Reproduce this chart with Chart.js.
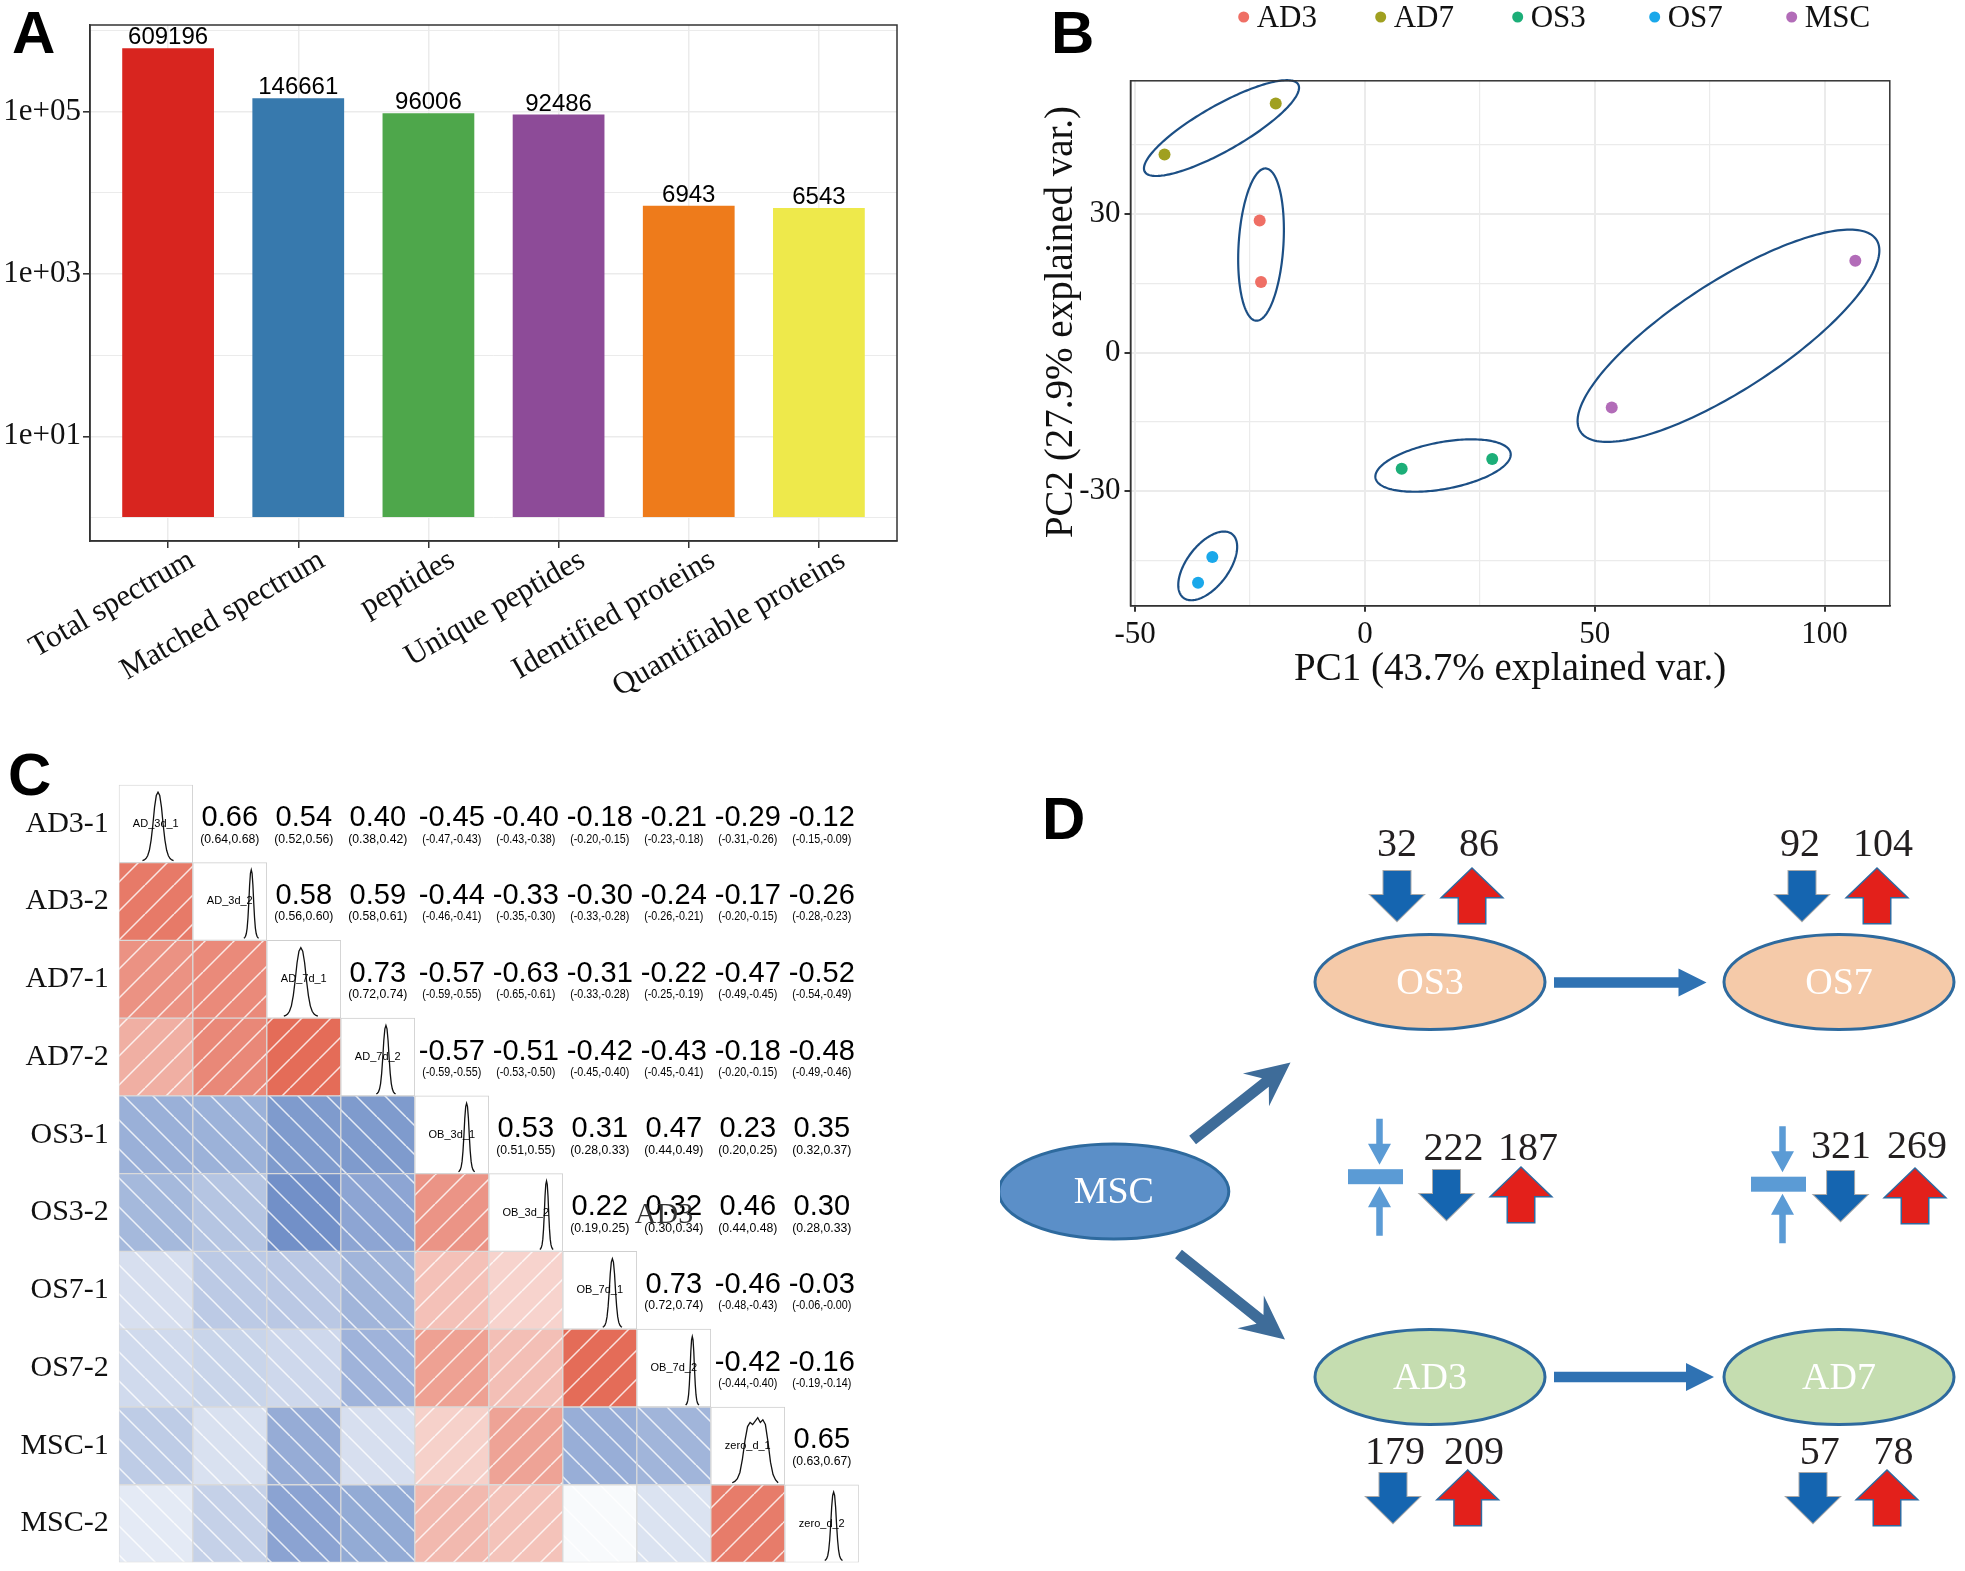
<!DOCTYPE html>
<html>
<head>
<meta charset="utf-8">
<script src="https://cdn.jsdelivr.net/npm/chart.js@4.4.1/dist/chart.umd.min.js"></script>
<style>
  body { margin: 0; background: #fff; width: 1965px; height: 1571px; position: relative; overflow: hidden; }
  canvas { position: absolute; }
  .tag { position: absolute; z-index: 2; font: bold 60px "Liberation Sans", Arial, sans-serif; line-height: 60px; color: #000; }
</style>
</head>
<body>
<div class="tag" style="left:12px;top:3px">A</div>
<div class="tag" style="left:1051px;top:3px">B</div>
<div class="tag" style="left:8px;top:745px">C</div>
<div class="tag" style="left:1042px;top:789px">D</div>

<canvas id="cA" width="905" height="720" style="left:0;top:0"></canvas>
<canvas id="cB" width="925" height="720" style="left:1040px;top:0"></canvas>
<canvas id="cC" width="900" height="831" style="left:0;top:740px"></canvas>
<canvas id="cD" width="965" height="811" style="left:1000px;top:760px"></canvas>

<script>
const SERIF = '"Liberation Serif", "Times New Roman", serif';
const SANS = '"Liberation Sans", Arial, sans-serif';

// ---------- panel A data
const categories = ['Total spectrum', 'Matched spectrum', 'peptides', 'Unique peptides', 'Identified proteins', 'Quantifiable proteins'];
const counts = [609196, 146661, 96006, 92486, 6943, 6543];
const barColors = ['#d8251f', '#3779ad', '#4ea74b', '#8d4b98', '#ee7b1b', '#eee94b'];
const logTicks = [1, 10, 100, 1000, 10000, 100000, 1000000];
const logTickLabels = { 10: '1e+01', 1000: '1e+03', 100000: '1e+05' };

// ---------- panel B data
const groups = ['AD3', 'AD7', 'OS3', 'OS7', 'MSC'];
const groupColors = ['#ef6f65', '#a0a020', '#1cae78', '#1aa8ea', '#b26cb8'];
const pc1 = [[-22.9, -22.6], [-43.6, -19.4], [8.0, 27.7], [-33.2, -36.3], [53.7, 106.7]];
const pc2 = [[28.6, 15.3], [42.9, 54.0], [-25.2, -23.1], [-44.3, -49.9], [-11.9, 19.9]];
// ellipse per group: centre x, centre y, semi axis a (dx, dy), semi axis b (dx, dy)
const ellipses = [
  [-22.6, 23.4, 1.05, 16.5, 4.86, -0.31],
  [-31.2, 48.65, 16.7, 9.45, 2.4, -4.3],
  [17.0, -24.5, 14.7, 2.7, 0.9, -5.0],
  [-34.2, -46.25, 5.3, 6.9, 3.6, -2.8],
  [79.1, 3.63, 32.2, 20.8, 6.4, -9.83]
];
const pcTicksX = [-50, -25, 0, 25, 50, 75, 100];
const pcTicksY = [-45, -30, -15, 0, 15, 30, 45];

// ---------- panel C data
const sampleNames = ['AD3-1', 'AD3-2', 'AD7-1', 'AD7-2', 'OS3-1', 'OS3-2', 'OS7-1', 'OS7-2', 'MSC-1', 'MSC-2'];
const diagLabels = ['AD_3d_1', 'AD_3d_2', 'AD_7d_1', 'AD_7d_2', 'OB_3d_1', 'OB_3d_2', 'OB_7d_1', 'OB_7d_2', 'zero_d_1', 'zero_d_2'];
const corrRows = [
  [0.66, 0.54, 0.40, -0.45, -0.40, -0.18, -0.21, -0.29, -0.12],
  [0.58, 0.59, -0.44, -0.33, -0.30, -0.24, -0.17, -0.26],
  [0.73, -0.57, -0.63, -0.31, -0.22, -0.47, -0.52],
  [-0.57, -0.51, -0.42, -0.43, -0.18, -0.48],
  [0.53, 0.31, 0.47, 0.23, 0.35],
  [0.22, 0.32, 0.46, 0.30],
  [0.73, -0.46, -0.03],
  [-0.42, -0.16],
  [0.65]
];
const ciRows = [
  ['(0.64,0.68)', '(0.52,0.56)', '(0.38,0.42)', '(-0.47,-0.43)', '(-0.43,-0.38)', '(-0.20,-0.15)', '(-0.23,-0.18)', '(-0.31,-0.26)', '(-0.15,-0.09)'],
  ['(0.56,0.60)', '(0.58,0.61)', '(-0.46,-0.41)', '(-0.35,-0.30)', '(-0.33,-0.28)', '(-0.26,-0.21)', '(-0.20,-0.15)', '(-0.28,-0.23)'],
  ['(0.72,0.74)', '(-0.59,-0.55)', '(-0.65,-0.61)', '(-0.33,-0.28)', '(-0.25,-0.19)', '(-0.49,-0.45)', '(-0.54,-0.49)'],
  ['(-0.59,-0.55)', '(-0.53,-0.50)', '(-0.45,-0.40)', '(-0.45,-0.41)', '(-0.20,-0.15)', '(-0.49,-0.46)'],
  ['(0.51,0.55)', '(0.28,0.33)', '(0.44,0.49)', '(0.20,0.25)', '(0.32,0.37)'],
  ['(0.19,0.25)', '(0.30,0.34)', '(0.44,0.48)', '(0.28,0.33)'],
  ['(0.72,0.74)', '(-0.48,-0.43)', '(-0.06,-0.00)'],
  ['(-0.44,-0.40)', '(-0.19,-0.14)'],
  ['(0.63,0.67)']
];
// density curves on the diagonal: peak position and spread (share of cell width)
const diagPeak = [0.53, 0.79, 0.46, 0.61, 0.70, 0.78, 0.67, 0.75, 0.60, 0.66];
const diagSpread = [0.42, 0.20, 0.46, 0.26, 0.22, 0.18, 0.26, 0.18, 0.62, 0.24];
const densityShape = [0, 0.01, 0.03, 0.07, 0.15, 0.3, 0.52, 0.78, 0.95, 1, 0.95, 0.78, 0.52, 0.3, 0.15, 0.07, 0.03, 0.01, 0];
const densityFlat = [0, 0.02, 0.06, 0.15, 0.35, 0.62, 0.82, 0.88, 0.85, 0.9, 0.95, 0.88, 0.92, 0.85, 0.6, 0.3, 0.12, 0.04, 0];

// ---------- panel D data
const nodeNames = ['MSC', 'OS3', 'OS7', 'AD3', 'AD7'];
const nodeX = [113.8, 430, 839, 430, 839];
const nodeY = [431.5, 222, 222, 617, 617];
const nodeFill = ['#5b8fc8', '#f5caa9', '#f5caa9', '#c5ddb0', '#c5ddb0'];
const downCounts = [32, 92, 222, 321, 179, 57];
const upCounts = [86, 104, 187, 269, 209, 78];
const countY = [85, 85, 389, 387, 693, 693];
const downNumX = [397, 800, 453.5, 841, 395, 819.7];
const upNumX = [479, 883, 528, 917, 474, 893.5];
const downArrowX = [397, 802, 446.5, 840.6, 393, 813];
const upArrowX = [472, 877, 521, 915, 467.7, 887];
const arrowTop = [111, 111, 410, 411, 713, 713];

const base = { responsive: false, animation: false, devicePixelRatio: 1 };

// ================= A
const frameA = {
  id: 'frameA',
  afterDraw(chart) {
    const { ctx, chartArea: a } = chart;
    ctx.save();
    ctx.strokeStyle = '#333'; ctx.lineWidth = 1.5;
    ctx.strokeRect(a.left, a.top, a.right - a.left, a.bottom - a.top);
    ctx.font = '24px ' + SANS; ctx.fillStyle = '#000'; ctx.textAlign = 'center'; ctx.textBaseline = 'alphabetic';
    chart.getDatasetMeta(0).data.forEach((bar, i) => {
      ctx.fillText(String(counts[i]), bar.x, bar.y - 4);
    });
    ctx.restore();
  }
};

new Chart(document.getElementById('cA'), {
  type: 'bar',
  data: {
    datasets: [{
      data: counts.map((v, i) => ({ x: i, y: v })),
      backgroundColor: barColors, borderWidth: 0, base: 1,
      barPercentage: 0.705, categoryPercentage: 1
    }]
  },
  options: Object.assign({}, base, {
    layout: { padding: { top: 25, right: 8, left: 0, bottom: 0 } },
    plugins: { legend: { display: false }, tooltip: { enabled: false } },
    scales: {
      x: {
        type: 'linear', min: -0.6, max: 5.6, offset: false,
        afterBuildTicks: s => { s.ticks = categories.map((c, i) => ({ value: i })); },
        afterFit: s => { s.height = 179; },
        ticks: { autoSkip: false, maxRotation: 30, minRotation: 30, labelOffset: 24, padding: -6,
          callback: v => categories[v], font: { family: SERIF, size: 31 }, color: '#111' },
        grid: { offset: false, color: '#ebebeb', lineWidth: 1.5, tickColor: '#333', tickLength: 7 },
        border: { color: '#333', width: 1.5 }
      },
      y: {
        type: 'logarithmic', min: 0.513, max: 1175000,
        afterBuildTicks: s => { s.ticks = logTicks.map(v => ({ value: v })); },
        afterFit: s => { s.width = 90; },
        ticks: { callback: v => logTickLabels[v] || '', font: { family: SERIF, size: 31 }, color: '#111', padding: 2 },
        grid: {
          color: '#ebebeb',
          lineWidth: c => (c.tick && logTickLabels[c.tick.value]) ? 1.6 : 1,
          tickColor: c => (c.tick && logTickLabels[c.tick.value]) ? '#333' : 'rgba(0,0,0,0)',
          tickLength: 7
        },
        border: { color: '#333', width: 1.5 }
      }
    }
  }),
  plugins: [frameA]
});

// ================= B
const pcaDeco = {
  id: 'pcaDeco',
  beforeDatasetsDraw(chart) {
    const { ctx } = chart;
    const xs = chart.scales.x, ys = chart.scales.y;
    ctx.save();
    ctx.strokeStyle = '#1c4f85'; ctx.lineWidth = 2.2;
    ellipses.forEach(e => {
      ctx.beginPath();
      for (let k = 0; k <= 200; k++) {
        const t = k / 200 * Math.PI * 2;
        const px = xs.getPixelForValue(e[0] + e[2] * Math.cos(t) + e[4] * Math.sin(t));
        const py = ys.getPixelForValue(e[1] + e[3] * Math.cos(t) + e[5] * Math.sin(t));
        if (k === 0) ctx.moveTo(px, py); else ctx.lineTo(px, py);
      }
      ctx.closePath(); ctx.stroke();
    });
    ctx.restore();
  },
  afterDraw(chart) {
    const { ctx, chartArea: a } = chart;
    ctx.save();
    ctx.strokeStyle = '#333'; ctx.lineWidth = 1.5;
    ctx.strokeRect(a.left, a.top, a.right - a.left, a.bottom - a.top);
    // legend
    ctx.font = '31px ' + SERIF; ctx.textBaseline = 'middle'; ctx.textAlign = 'left';
    groups.forEach((g, i) => {
      const x = 203.7 + i * 137;
      ctx.fillStyle = groupColors[i];
      ctx.beginPath(); ctx.arc(x, 17, 5.5, 0, Math.PI * 2); ctx.fill();
      ctx.fillStyle = '#111';
      ctx.fillText(g, x + 13, 19);
    });
    // y title
    ctx.translate(22, 322); ctx.rotate(-Math.PI / 2);
    ctx.textAlign = 'center'; ctx.font = '39px ' + SERIF;
    ctx.fillText('PC2 (27.9% explained var.)', 0, 0);
    ctx.restore();
  }
};

new Chart(document.getElementById('cB'), {
  type: 'scatter',
  data: {
    datasets: groups.map((g, i) => ({
      label: g,
      data: pc1[i].map((x, k) => ({ x: x, y: pc2[i][k] })),
      backgroundColor: groupColors[i], borderWidth: 0, pointRadius: 6
    }))
  },
  options: Object.assign({}, base, {
    layout: { padding: { top: 80.8, right: 75.2, left: 0, bottom: 0 } },
    plugins: { legend: { display: false }, tooltip: { enabled: false } },
    scales: {
      x: {
        type: 'linear', min: -51.0, max: 114.2,
        afterBuildTicks: s => { s.ticks = pcTicksX.map(v => ({ value: v })); },
        afterFit: s => { s.height = 114.2; },
        ticks: { callback: v => (v % 50 === 0 ? String(v) : ''), font: { family: SERIF, size: 31 }, color: '#111', padding: 4, maxRotation: 0 },
        grid: { color: '#ebebeb', lineWidth: c => (c.tick && c.tick.value % 50 === 0) ? 2 : 1.2,
          tickColor: c => (c.tick && c.tick.value % 50 === 0) ? '#333' : 'rgba(0,0,0,0)', tickLength: 6 },
        border: { color: '#333', width: 1.5 },
        title: { display: true, text: 'PC1 (43.7% explained var.)', font: { family: SERIF, size: 39 }, color: '#111', padding: { top: 0, bottom: 27 } }
      },
      y: {
        type: 'linear', min: -54.9, max: 58.9,
        afterBuildTicks: s => { s.ticks = pcTicksY.map(v => ({ value: v })); },
        afterFit: s => { s.width = 90.5; },
        ticks: { callback: v => (v % 30 === 0 ? String(v) : ''), font: { family: SERIF, size: 31 }, color: '#111', padding: 4 },
        grid: { color: '#ebebeb', lineWidth: c => (c.tick && c.tick.value % 30 === 0) ? 2 : 1.2,
          tickColor: c => (c.tick && c.tick.value % 30 === 0) ? '#333' : 'rgba(0,0,0,0)', tickLength: 6 },
        border: { color: '#333', width: 1.5 }
      }
    }
  }),
  plugins: [pcaDeco]
});

// ================= C
function corrAt(i, j) { return corrRows[i][j - i - 1]; }
function corrColor(r) {
  const t = Math.abs(r);
  const d = r > 0 ? [37, 201, 229] : [224, 176, 87];
  return 'rgb(' + d.map(v => Math.round(255 - t * v)).join(',') + ')';
}
function hatch(color, dir) {
  const s = 29, c = document.createElement('canvas');
  c.width = s; c.height = s;
  const g = c.getContext('2d');
  g.fillStyle = color; g.fillRect(0, 0, s, s);
  g.strokeStyle = 'rgba(255,255,255,0.8)'; g.lineWidth = 1.5;
  g.beginPath();
  for (let k = -1; k <= 1; k++) {
    if (dir > 0) { g.moveTo(k * s, s); g.lineTo(k * s + s, 0); }
    else { g.moveTo(k * s, 0); g.lineTo(k * s + s, s); }
  }
  g.stroke();
  return g.createPattern(c, 'repeat');
}

const lowerCells = [], lowerFills = [], diagCells = [];
for (let i = 0; i < sampleNames.length; i++) {
  diagCells.push({ x: i + 0.5, y: [i, i + 1] });
  for (let j = 0; j < i; j++) {
    const r = corrAt(j, i);
    lowerCells.push({ x: j + 0.5, y: [i, i + 1] });
    lowerFills.push(hatch(corrColor(r), r > 0 ? 1 : -1));
  }
}

const corrText = {
  id: 'corrText',
  afterDatasetsDraw(chart) {
    const { ctx } = chart;
    const xs = chart.scales.x, ys = chart.scales.y;
    ctx.save();
    ctx.textAlign = 'center'; ctx.textBaseline = 'middle'; ctx.fillStyle = '#000';
    const n = sampleNames.length;
    for (let i = 0; i < n; i++) {
      const top = ys.getPixelForValue(i), bottom = ys.getPixelForValue(i + 1);
      const ch = bottom - top;
      for (let j = i + 1; j < n; j++) {
        const cx = xs.getPixelForValue(j + 0.5);
        const cw = xs.getPixelForValue(j + 1) - xs.getPixelForValue(j);
        ctx.font = '29px ' + SANS;
        ctx.fillText(corrAt(i, j).toFixed(2), cx, top + ch * 0.43);
        ctx.font = '12.5px ' + SANS;
        ctx.fillText(ciRows[i][j - i - 1], cx, top + ch * 0.70, cw * 0.8);
      }
      // diagonal density
      const left = xs.getPixelForValue(i), right = xs.getPixelForValue(i + 1);
      const cw = right - left;
      const shape = i === 8 ? densityFlat : densityShape;
      const w = diagSpread[i] * cw, x0 = left + diagPeak[i] * cw - w / 2;
      ctx.beginPath();
      shape.forEach((h, k) => {
        const px = x0 + k / (shape.length - 1) * w;
        const py = bottom - 2 - h * ch * 0.88;
        if (k === 0) ctx.moveTo(px, py); else ctx.lineTo(px, py);
      });
      ctx.strokeStyle = '#111'; ctx.lineWidth = 1.3; ctx.stroke();
      ctx.font = '11px ' + SANS;
      ctx.fillText(diagLabels[i], left + cw / 2, top + ch / 2);
    }
    // stray label left in the source figure
    ctx.font = '30px ' + SERIF; ctx.fillStyle = '#333';
    ctx.fillText('AD3', 664, 1215 - 740);
    ctx.restore();
  }
};

new Chart(document.getElementById('cC'), {
  type: 'bar',
  data: {
    datasets: [
      { data: lowerCells, backgroundColor: lowerFills, borderColor: '#dadada', borderWidth: 1, borderSkipped: false, grouped: false, barPercentage: 1, categoryPercentage: 1 },
      { data: diagCells, backgroundColor: '#fff', borderColor: '#cfcfcf', borderWidth: 1, borderSkipped: false, grouped: false, barPercentage: 1, categoryPercentage: 1 }
    ]
  },
  options: Object.assign({}, base, {
    layout: { padding: { top: 44.8, right: 41.2, left: 0, bottom: 8.5 } },
    plugins: { legend: { display: false }, tooltip: { enabled: false } },
    scales: {
      x: { type: 'linear', min: 0, max: 10, offset: false, grid: { offset: false }, display: false },
      y: {
        type: 'linear', min: 0, max: 10, reverse: true,
        afterBuildTicks: s => { s.ticks = sampleNames.map((n, i) => ({ value: i + 0.5 })); },
        afterFit: s => { s.width = 118.8; s.paddingTop = 0; s.paddingBottom = 0; },
        ticks: { callback: v => sampleNames[Math.floor(v)], font: { family: SERIF, size: 30 }, color: '#111', padding: 10 },
        grid: { display: false, drawTicks: false },
        border: { display: false }
      }
    }
  }),
  plugins: [corrText]
});

// ================= D
function blockArrow(ctx, cx, top, bottom, w, shaftW, headH, up, fill, stroke, lw) {
  ctx.beginPath();
  if (up) {
    ctx.moveTo(cx, top); ctx.lineTo(cx + w / 2, top + headH); ctx.lineTo(cx + shaftW / 2, top + headH);
    ctx.lineTo(cx + shaftW / 2, bottom); ctx.lineTo(cx - shaftW / 2, bottom); ctx.lineTo(cx - shaftW / 2, top + headH);
    ctx.lineTo(cx - w / 2, top + headH);
  } else {
    ctx.moveTo(cx, bottom); ctx.lineTo(cx + w / 2, bottom - headH); ctx.lineTo(cx + shaftW / 2, bottom - headH);
    ctx.lineTo(cx + shaftW / 2, top); ctx.lineTo(cx - shaftW / 2, top); ctx.lineTo(cx - shaftW / 2, bottom - headH);
    ctx.lineTo(cx - w / 2, bottom - headH);
  }
  ctx.closePath();
  ctx.lineJoin = 'miter';
  ctx.lineWidth = lw; ctx.strokeStyle = stroke; ctx.stroke();
  ctx.fillStyle = fill; ctx.fill();
}
function lineArrow(ctx, x0, y0, x1, y1, shaftW, headL, headW, notch, color) {
  const ang = Math.atan2(y1 - y0, x1 - x0), len = Math.hypot(x1 - x0, y1 - y0);
  ctx.save();
  ctx.translate(x0, y0); ctx.rotate(ang);
  ctx.beginPath();
  ctx.moveTo(0, -shaftW / 2); ctx.lineTo(len - headL + notch, -shaftW / 2);
  ctx.lineTo(len - headL, -headW / 2); ctx.lineTo(len, 0); ctx.lineTo(len - headL, headW / 2);
  ctx.lineTo(len - headL + notch, shaftW / 2); ctx.lineTo(0, shaftW / 2);
  ctx.closePath();
  ctx.fillStyle = color; ctx.fill();
  ctx.restore();
}
function squeeze(ctx, xs, ys, cx, barY) {
  const X = xs.getPixelForValue(cx), Y = ys.getPixelForValue(barY);
  ctx.fillStyle = '#5b9bd5';
  ctx.fillRect(X - 27.5, Y - 7.5, 55, 15);
  lineArrow(ctx, X + 4, Y - 58, X + 4, Y - 12, 6.5, 21, 23, 0, '#5b9bd5');
  lineArrow(ctx, X + 4, Y + 59, X + 4, Y + 9.5, 6.5, 21, 23, 0, '#5b9bd5');
}

const flowDeco = {
  id: 'flowDeco',
  afterDatasetsDraw(chart) {
    const { ctx } = chart;
    const xs = chart.scales.x, ys = chart.scales.y;
    const P = (x, y) => [xs.getPixelForValue(x), ys.getPixelForValue(y)];
    ctx.save();
    // connecting arrows
    let a = P(192.6, 380), b = P(290.5, 302.6);
    lineArrow(ctx, a[0], a[1], b[0], b[1], 11, 44, 42, 12, '#3e6c99');
    a = P(178.5, 494); b = P(285, 579.4);
    lineArrow(ctx, a[0], a[1], b[0], b[1], 11, 44, 42, 12, '#3e6c99');
    a = P(554, 222.5); b = P(706.5, 222.5);
    lineArrow(ctx, a[0], a[1], b[0], b[1], 10.5, 28, 28, 0, '#2f72b3');
    a = P(554, 617); b = P(714, 617);
    lineArrow(ctx, a[0], a[1], b[0], b[1], 10.5, 28, 28, 0, '#2f72b3');
    // nodes
    chart.getDatasetMeta(0).data.forEach((pt, i) => {
      ctx.beginPath();
      ctx.ellipse(pt.x, pt.y, 115, 47.5, 0, 0, Math.PI * 2);
      ctx.fillStyle = nodeFill[i]; ctx.fill();
      ctx.lineWidth = 3; ctx.strokeStyle = '#2e6a9e'; ctx.stroke();
      ctx.fillStyle = '#fff'; ctx.font = '38px ' + SERIF; ctx.textAlign = 'center'; ctx.textBaseline = 'middle';
      ctx.fillText(nodeNames[i], pt.x, pt.y + 2);
    });
    // counts with up / down arrows
    downCounts.forEach((d, g) => {
      ctx.fillStyle = '#231f20'; ctx.font = '40px ' + SERIF; ctx.textAlign = 'center'; ctx.textBaseline = 'middle';
      let p = P(downNumX[g], countY[g]);
      ctx.fillText(String(d), p[0], p[1]);
      p = P(upNumX[g], countY[g]);
      ctx.fillText(String(upCounts[g]), p[0], p[1]);
      const t = ys.getPixelForValue(arrowTop[g]);
      blockArrow(ctx, xs.getPixelForValue(downArrowX[g]), t, t + 50, 53, 27, 26, false, '#1565b0', '#a9a9a9', 2);
      blockArrow(ctx, xs.getPixelForValue(upArrowX[g]), t - 2, t + 52, 58, 26, 28, true, '#e3201b', '#2f6aa0', 3);
    });
    squeeze(ctx, xs, ys, 375.5, 416.7);
    squeeze(ctx, xs, ys, 778.5, 424.2);
    ctx.restore();
  }
};

new Chart(document.getElementById('cD'), {
  type: 'scatter',
  data: { datasets: [{ data: nodeX.map((x, i) => ({ x: x, y: nodeY[i] })), pointRadius: 0 }] },
  options: Object.assign({}, base, {
    layout: { padding: 0 },
    plugins: { legend: { display: false }, tooltip: { enabled: false } },
    scales: {
      x: { type: 'linear', min: 0, max: 965, display: false },
      y: { type: 'linear', min: 0, max: 811, reverse: true, display: false }
    }
  }),
  plugins: [flowDeco]
});
</script>
</body>
</html>
